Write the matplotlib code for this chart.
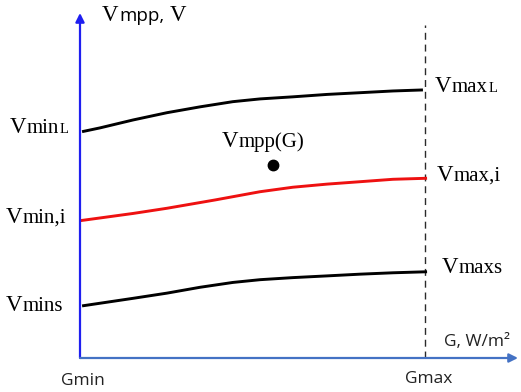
import matplotlib
matplotlib.use("Agg")
import matplotlib.pyplot as plt

# Irradiance axis, normalised: 0 = Gmin, 1 = Gmax
g_upper = [0.006, 0.058, 0.154, 0.252, 0.348, 0.443, 0.522, 0.617, 0.716, 0.812, 0.907, 0.994]
v_upper = [65.6, 66.7, 69.0, 71.1, 72.8, 74.3, 75.1, 75.7, 76.4, 76.9, 77.4, 77.7]

g_mid = [0.0, 0.154, 0.252, 0.391, 0.522, 0.617, 0.716, 0.812, 0.907, 1.006]
v_mid = [39.8, 41.9, 43.4, 45.8, 48.2, 49.5, 50.4, 51.1, 51.8, 52.1]

g_lower = [0.006, 0.154, 0.252, 0.348, 0.443, 0.522, 0.617, 0.716, 0.812, 0.907, 1.006]
v_lower = [15.1, 17.3, 18.8, 20.5, 21.9, 22.7, 23.3, 23.8, 24.3, 24.7, 25.0]

g_point = [0.559]
v_point = [55.9]

g_max_line = 1.0
v_max_line = 96.5

W, H = 521, 392
fig = plt.figure(figsize=(W / 100, H / 100), dpi=100)
fig.patch.set_facecolor("white")
renderer = fig.canvas.get_renderer()

# plotting region in pixels: origin at (80, 358), arrows end at x=518 / y=13
left, right, bottom, top = 80, 518, 358, 13
ax = fig.add_axes([left / W, (H - bottom) / H, (right - left) / W, (bottom - top) / H])
ax.set_xlim(0, (right - left) / 345)
ax.set_ylim(0, 100)
ax.axis("off")

# axes arrows
ax.annotate("", xy=(0, 100), xytext=(0, 0), annotation_clip=False,
            arrowprops=dict(arrowstyle="-|>", color="#1f1ff0", lw=1.6,
                            mutation_scale=13, shrinkA=0, shrinkB=0))
ax.annotate("", xy=((right - left) / 345, 0), xytext=(0, 0), annotation_clip=False,
            arrowprops=dict(arrowstyle="-|>", color="#4472c4", lw=1.6,
                            mutation_scale=13, shrinkA=0, shrinkB=0))

# Gmax boundary
ax.plot([g_max_line, g_max_line], [0, v_max_line], color="#2a2a2a", lw=1.0,
        linestyle=(0, (5, 3.5)), clip_on=False)

# voltage limit curves
ax.plot(g_upper, v_upper, color="black", lw=2.1, solid_capstyle="butt", clip_on=False)
ax.plot(g_mid, v_mid, color="#ee1111", lw=2.1, solid_capstyle="butt", clip_on=False)
ax.plot(g_lower, v_lower, color="black", lw=2.1, solid_capstyle="butt", clip_on=False)
ax.plot(g_point, v_point, "o", color="black", ms=7.5, clip_on=False)

SERIF = "Liberation Serif"
SANS = "Open Sans"


def put(x, y, s, size, family=SERIF, color="black"):
    """Place text with its baseline at pixel (x, y), measured from the top-left."""
    t = fig.text(x / W, 1 - y / H, s, fontsize=size, family=family, color=color,
                 va="baseline", ha="left")
    t._px = (x, y)
    return t


def after(prev, s, size, family=SERIF, gap=0.5, color="black"):
    """Continue a label on the same baseline, right after the previous piece."""
    x1 = prev.get_window_extent(renderer).x1
    return put(x1 + gap, prev._px[1], s, size, family=family, color=color)


def vlabel(xv, base, sub, sub2=None):
    v = put(xv, base, "V", 16.5)
    s = after(v, sub, 15)
    if sub2 is not None:
        after(s, sub2, 10.5)


# y-axis title
t = put(102, 21, "V", 16.5)
t = after(t, "mpp,", 13.5, family=SANS)
after(t, "V", 16.5, gap=5)

# left-hand limits
vlabel(10, 133, "min", "L")
vlabel(6, 223, "min,i")
vlabel(6, 311, "mins")

# right-hand limits
vlabel(435, 92, "max", "L")
vlabel(437, 181, "max,i")
vlabel(442, 273, "maxs")

# operating point
vlabel(222, 147, "mpp(G)")

# x-axis labels
put(61, 385, "Gmin", 12.5, family=SANS, color="#222222")
put(405, 383, "Gmax", 12.5, family=SANS, color="#222222")
put(444, 346, "G, W/m²", 12.5, family=SANS, color="#222222")

fig.savefig("out.png", dpi=100)
